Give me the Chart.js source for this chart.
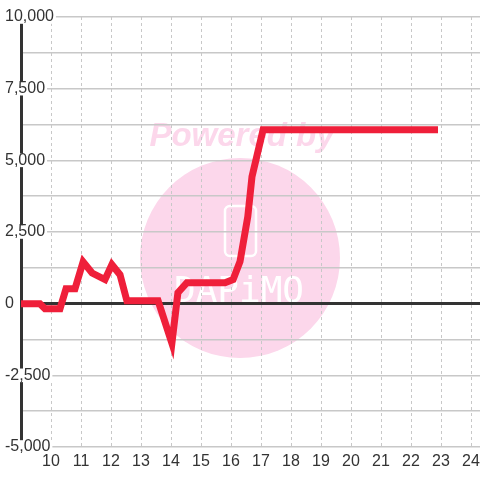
<!DOCTYPE html>
<html>
<head>
<meta charset="utf-8">
<script src="https://cdn.jsdelivr.net/npm/chart.js@4"></script>
<style>
  html, body { margin: 0; padding: 0; background: #fff; }
</style>
</head>
<body>
<canvas id="chart" width="480" height="480"></canvas>
<script>
// time of day (hours) and running profit
const hours  = [8.8, 9.63, 9.8, 10.3, 10.5, 10.8, 11.07, 11.37, 11.8, 12.03, 12.3, 12.53, 13.57, 14.03, 14.23, 14.53, 15.8, 16.07, 16.3, 16.56, 16.7, 17.07, 22.9];
const profit = [0, 0, -180, -180, 520, 520, 1460, 1070, 840, 1360, 1010, 100, 100, -1380, 380, 730, 730, 840, 1470, 3040, 4430, 6070, 6070];

const xTicks = [10, 11, 12, 13, 14, 15, 16, 17, 18, 19, 20, 21, 22, 23, 24];
const xMin = 9, xMax = 24.3;
const yMin = -5000, yMax = 10000;
const yStep = 1250, yLabelStep = 2500;

Chart.defaults.font.family = '"Liberation Sans", Arial, sans-serif';

// pink "Powered by" stamp behind the grid
const watermark = {
    id: 'watermark',
    beforeDraw(chart) {
        const ctx = chart.ctx;
        ctx.save();
        ctx.fillStyle = '#fcd7eb';
        ctx.beginPath();
        ctx.arc(240, 258, 100, 0, Math.PI * 2);
        ctx.fill();

        ctx.font = 'italic bold 33px "Liberation Sans", Arial, sans-serif';
        ctx.textAlign = 'center';
        ctx.textBaseline = 'alphabetic';
        ctx.fillText('Powered by', 242, 146);

        ctx.strokeStyle = '#ffffff';
        ctx.lineWidth = 2.5;
        ctx.beginPath();
        ctx.roundRect(225, 206, 31, 50, 5);
        ctx.stroke();

        ctx.fillStyle = '#ffffff';
        ctx.font = '36px "DejaVu Sans Mono", monospace';
        ctx.fillText('DAPiMO', 239, 302);
        ctx.restore();
    }
};

new Chart(document.getElementById('chart'), {
    type: 'line',
    data: {
        datasets: [{
            data: hours.map((h, i) => ({ x: h, y: profit[i] })),
            borderColor: '#ef1f3a',
            borderWidth: 7,
            pointRadius: 0,
            tension: 0,
            fill: false
        }]
    },
    options: {
        responsive: false,
        animation: false,
        layout: { padding: { left: 5, top: 17, right: 0, bottom: 0 } },
        plugins: {
            legend: { display: false },
            tooltip: { enabled: false }
        },
        scales: {
            x: {
                type: 'linear',
                min: xMin,
                max: xMax,
                afterBuildTicks: s => {
                    s.ticks = xTicks.map(v => ({ value: v }));
                },
                afterFit: s => {
                    s.height = 33;
                    s.paddingLeft = 0;
                    s.paddingRight = 0;
                },
                ticks: {
                    autoSkip: false,
                    maxRotation: 0,
                    padding: 5,
                    color: '#333',
                    font: { size: 16 }
                },
                grid: { color: '#c8c8c8', lineWidth: 1, drawTicks: false },
                border: { display: false, dash: [3, 3] }
            },
            y: {
                min: yMin,
                max: yMax,
                afterFit: s => { s.width = 16; },
                ticks: {
                    stepSize: yStep,
                    autoSkip: false,
                    mirror: true,
                    padding: -16,
                    crossAlign: 'near',
                    color: '#333',
                    font: { size: 16, lineHeight: 0.85 },
                    showLabelBackdrop: true,
                    backdropColor: '#ffffff',
                    backdropPadding: { x: 2, y: 0 },
                    callback: v => v % yLabelStep === 0 ? v.toLocaleString('en-US') : ''
                },
                grid: {
                    drawTicks: false,
                    color: c => c.tick && c.tick.value === 0 ? '#333' : '#c8c8c8',
                    lineWidth: c => c.tick && c.tick.value === 0 ? 3 : 1.5
                },
                border: { display: true, color: '#333', width: 3 }
            }
        }
    },
    plugins: [watermark]
});
</script>
</body>
</html>
